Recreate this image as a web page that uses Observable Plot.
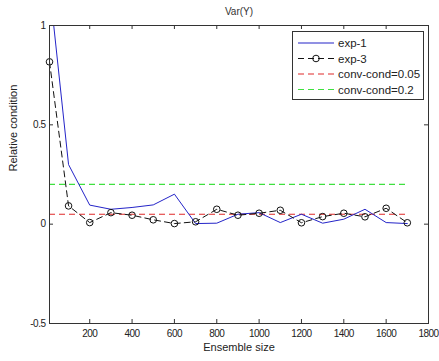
<!DOCTYPE html>
<html><head><meta charset="utf-8">
<script src="https://cdn.jsdelivr.net/npm/d3@7"></script>
<script src="https://cdn.jsdelivr.net/npm/@observablehq/plot@0.6"></script>
<style>
body{margin:0;background:#fff;}
#chart{width:439px;height:361px;}
svg text{font-family:"Liberation Sans",Arial,sans-serif;}
</style>
</head><body><div id="chart"></div>
<script>
const ensembleSize = [10,100,200,300,400,500,600,700,800,900,1000,1100,1200,1300,1400,1500,1600,1700];
const exp1 = [1.20,0.30,0.096,0.075,0.084,0.097,0.151,0.003,0.005,0.05,0.058,0.008,0.05,0.005,0.025,0.075,0.008,0.003];
const exp3 = [0.817,0.092,0.008,0.058,0.045,0.022,0.003,0.012,0.075,0.045,0.055,0.07,0.007,0.038,0.055,0.037,0.08,0.007];
const convCond = [0.05, 0.2];
const convLabels = ["conv-cond=0.05","conv-cond=0.2"];
const seriesNames = ["exp-1","exp-3"];
const xTicks = [200,400,600,800,1000,1200,1400,1600,1800];
const yTicks = [-0.5,0,0.5,1];
const yTickLabels = ["-0.5","0","0.5","1"];
const titleText = "Var(Y)";
const xLabel = "Ensemble size";
const yLabel = "Relative condition";

const blue = "#2424c8", black = "#111", red = "#e02a2a", green = "#3fe03f";
const rows = ensembleSize.map((x,i)=>({x, e1: exp1[i], e3: exp3[i]}));
const convRows = convCond.map((v,i)=>({v, c: i===0 ? red : green}));
const font = 11;

const plot = Plot.plot({
  width: 439, height: 361,
  marginLeft: 49, marginRight: 11, marginTop: 25, marginBottom: 38,
  style: {background: "#fff", fontSize: font + "px"},
  x: {domain: [10, 1800], axis: null},
  y: {domain: [-0.5, 1], axis: null},
  marks: [
    Plot.ruleY(convRows, {y: "v", x1: ensembleSize[0], x2: ensembleSize[ensembleSize.length-1], stroke: d=>d.c, strokeWidth: 1.2, strokeDasharray: "6,4"}),
    Plot.line(rows, {x: "x", y: "e1", stroke: blue, strokeWidth: 1, clip: true}),
    Plot.line(rows, {x: "x", y: "e3", stroke: black, strokeWidth: 1, strokeDasharray: "6,4", clip: true}),
    Plot.dot(rows, {x: "x", y: "e3", r: 3.3, stroke: black, fill: "none", strokeWidth: 1}),
    Plot.tickX(xTicks, {x: d=>d, insetTop: 294, stroke: "#333"}),
    Plot.tickX(xTicks, {x: d=>d, insetBottom: 294, stroke: "#333"}),
    Plot.tickY(yTicks, {y: d=>d, insetRight: 375, stroke: "#333"}),
    Plot.tickY(yTicks, {y: d=>d, insetLeft: 375, stroke: "#333"}),
    Plot.frame({stroke: "#333"}),
    Plot.text(xTicks, {x: d=>d, text: d=>String(d), frameAnchor: "bottom", lineAnchor: "middle", dy: 10, fill: "#222", fontSize: 10}),
    Plot.text(yTicks, {y: d=>d, text: (d,i)=>yTickLabels[i], frameAnchor: "left", textAnchor: "end", dx: -4, fill: "#222", fontSize: 10}),
    Plot.text([titleText], {text: d=>d, frameAnchor: "top", lineAnchor: "middle", dy: -14, fill: "#333", fontSize: 10}),
    Plot.text([xLabel], {text: d=>d, frameAnchor: "bottom", lineAnchor: "middle", dy: 24, fill: "#222"}),
    Plot.text([yLabel], {text: d=>d, frameAnchor: "left", rotate: -90, dx: -36, dy: -3, fill: "#222"})
  ]
});
document.getElementById("chart").appendChild(plot);

const svg = d3.select(plot);
// narrower tick-label digits, like the reference
svg.selectAll('g[aria-label="text"]').filter((d,i)=>i<2).attr("letter-spacing", "-0.5px");

// legend
const lg = svg.append("g").attr("fill", "#222").attr("text-anchor", "start");
lg.append("rect").attr("x", 292.5).attr("y", 31.5).attr("width", 131).attr("height", 68)
  .attr("fill", "#fff").attr("stroke", "#333");
const entries = [
  {name: seriesNames[0], c: blue, dash: null, marker: false},
  {name: seriesNames[1], c: black, dash: "6,4", marker: true},
  {name: convLabels[0], c: red, dash: "6,4", marker: false},
  {name: convLabels[1], c: green, dash: "6,4", marker: false}
];
const rowY = [43, 58.5, 74, 89.5];
entries.forEach((e,i)=>{
  const y = rowY[i];
  const l = lg.append("line").attr("x1", 298).attr("x2", 334).attr("y1", y).attr("y2", y)
    .attr("stroke", e.c).attr("stroke-width", e.c===black?1:1.2);
  if (e.dash) l.attr("stroke-dasharray", e.dash);
  if (e.marker) lg.append("circle").attr("cx", 316).attr("cy", y).attr("r", 3.3).attr("fill", "none").attr("stroke", e.c);
  lg.append("text").attr("x", 338).attr("y", y).attr("dy", "0.35em").style("font-size", "11.5px").text(e.name);
});
</script>
</body></html>
